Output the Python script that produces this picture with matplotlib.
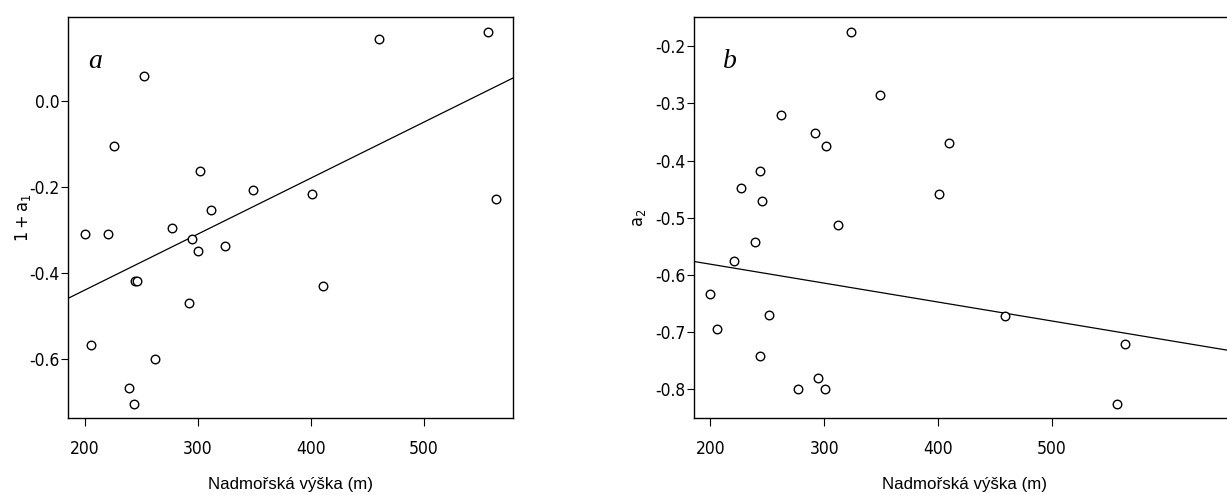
import matplotlib
matplotlib.use("Agg")
import matplotlib.pyplot as plt
import numpy as np

plt.rcParams['axes.unicode_minus'] = False
plt.rcParams['font.family'] = ['DejaVu Sans']
plt.rcParams['font.stretch'] = 'condensed'
plt.rcParams['mathtext.fontset'] = 'custom'
plt.rcParams['mathtext.rm'] = 'Liberation Sans'

# panel a: elevation (m) vs 1 + a1
elev_a = [557, 460, 252, 226, 302, 349, 401, 564, 312, 200, 220, 277,
          295, 300, 324, 244, 246, 292, 410.6, 205.6, 262, 239, 243.6]
val_a = [0.161, 0.143, 0.057, -0.105, -0.162, -0.208, -0.217, -0.229, -0.253,
         -0.309, -0.309, -0.296, -0.321, -0.348, -0.337, -0.418, -0.418,
         -0.470, -0.430, -0.567, -0.601, -0.668, -0.704]

# panel b: elevation (m) vs a2
elev_b = [324, 349, 262, 292, 302, 410, 244, 227, 245, 401, 312, 239, 221,
          200, 206, 252, 459, 564, 244, 277, 295, 300.5, 557]
val_b = [-0.175, -0.285, -0.321, -0.352, -0.375, -0.370, -0.418, -0.448,
         -0.470, -0.459, -0.512, -0.543, -0.576, -0.633, -0.695, -0.670,
         -0.672, -0.720, -0.741, -0.800, -0.780, -0.800, -0.826]

# fitted lines as drawn in the figure (slope, intercept)
fit_a = (0.0013, -0.6995)
fit_b = (-0.000331, -0.5149)

ticks_x = [200, 300, 400, 500]
ticks_a = [0.0, -0.2, -0.4, -0.6]
ticks_b = [-0.2, -0.3, -0.4, -0.5, -0.6, -0.7, -0.8]

W, H = 1227, 495
fig = plt.figure(figsize=(W / 100, H / 100), dpi=100)
ax1 = fig.add_axes([68 / W, 77 / H, 445 / W, 401 / H])
ax2 = fig.add_axes([694 / W, 77 / H, 540 / W, 401 / H])

def panel(ax, x, y, fit, xlim, ylim, yticks, ylabel, letter, lx, ylx):
    ax.scatter(x, y, s=38, facecolors='white', edgecolors='black', linewidths=1.0, zorder=3)
    xx = np.array(xlim)
    ax.plot(xx, fit[0] * xx + fit[1], color='black', lw=0.9)
    ax.set_xlim(xlim)
    ax.set_ylim(ylim)
    ax.set_xticks(ticks_x)
    ax.set_yticks(yticks)
    ax.set_yticklabels(['%.1f' % t for t in yticks])
    ax.tick_params(axis='x', length=6, width=0.8, pad=10, labelsize=12.5)
    ax.tick_params(axis='y', length=5, width=0.8, pad=1, labelsize=12.5)
    for s in ax.spines.values():
        s.set_linewidth(1.0)
    ax.set_xlabel('Nadmořská výška (m)', family='Liberation Sans', stretch='normal', fontsize=12.2)
    ax.xaxis.set_label_coords(0.5, -0.148)
    ax.set_ylabel(ylabel, fontsize=13)
    ax.yaxis.set_label_coords(ylx, 0.5)
    ax.text(lx, 0.89, letter, transform=ax.transAxes, family='Liberation Serif',
            style='italic', stretch='normal', fontsize=20, ha='left', va='center')

panel(ax1, elev_a, val_a, fit_a, (185, 579), (-0.737, 0.195), ticks_a,
      r'$\mathregular{1 + a_1}$', 'a', 0.045, -35 / 445)
panel(ax2, elev_b, val_b, fit_b, (185.7, 660), (-0.850, -0.149), ticks_b,
      r'$\mathregular{a_2}$', 'b', 0.054, -46 / 540)

fig.savefig('out.png', dpi=100)
